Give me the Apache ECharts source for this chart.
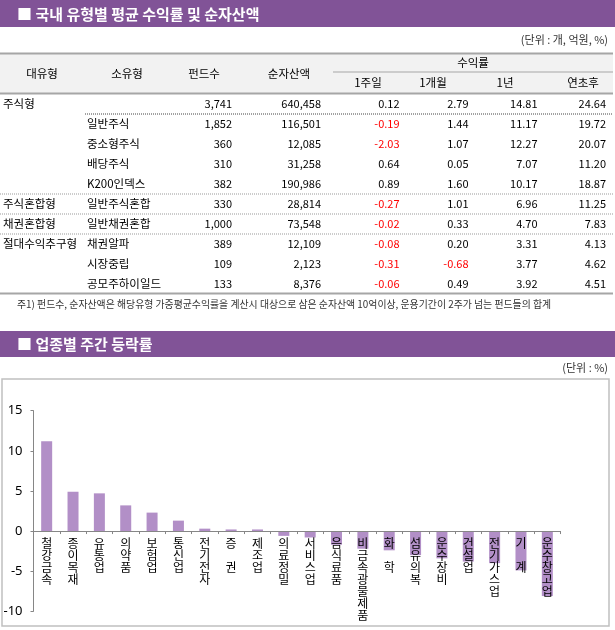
<!DOCTYPE html>
<html><head><meta charset="utf-8">
<script src="https://cdn.jsdelivr.net/npm/echarts@6/dist/echarts.min.js"></script>
<style>html,body{margin:0;padding:0;background:#fff}#c{width:615px;height:630px}</style>
</head><body><div id="c"></div>
<script>
// ---- Data ----
const tableTitle = '■ 국내 유형별 평균 수익률 및 순자산액';
const tableUnit = '(단위 : 개, 억원, %)';
const headerMain = ['대유형', '소유형', '펀드수', '순자산액'];
const headerGroup = '수익률';
const headerSub = ['1주일', '1개월', '1년', '연초후'];
const majorTypes = ['주식형', '', '', '', '', '주식혼합형', '채권혼합형', '절대수익추구형', '', ''];
const subTypes = ['', '일반주식', '중소형주식', '배당주식', 'K200인덱스', '일반주식혼합', '일반채권혼합', '채권알파', '시장중립', '공모주하이일드'];
const fundCounts = [3741, 1852, 360, 310, 382, 330, 1000, 389, 109, 133];
const netAssets = [640458, 116501, 12085, 31258, 190986, 28814, 73548, 12109, 2123, 8376];
const ret1w = [0.12, -0.19, -2.03, 0.64, 0.89, -0.27, -0.02, -0.08, -0.31, -0.06];
const ret1m = [2.79, 1.44, 1.07, 0.05, 1.60, 1.01, 0.33, 0.20, -0.68, 0.49];
const ret1y = [14.81, 11.17, 12.27, 7.07, 10.17, 6.96, 4.70, 3.31, 3.77, 3.92];
const retYtd = [24.64, 19.72, 20.07, 11.20, 18.87, 11.25, 7.83, 4.13, 4.62, 4.51];
const noteText = '주1) 펀드수, 순자산액은 해당유형 가중평균수익률을 계산시 대상으로 삼은 순자산액 10억이상, 운용기간이 2주가 넘는 펀드들의 합계';

const chartTitle = '■ 업종별 주간 등락률';
const chartUnit = '(단위 : %)';
const sectors = ['철강금속', '종이목재', '유통업', '의약품', '보험업', '통신업', '전기전자', '증권', '제조업', '의료정밀',
  '서비스업', '음식료품', '비금속광물제품', '화학', '섬유의복', '운수장비', '건설업', '전기가스업', '기계', '운수창고업'];
const weeklyChange = [11.2, 4.9, 4.7, 3.2, 2.3, 1.3, 0.3, 0.2, 0.2, -0.6,
  -0.8, -1.7, -2.2, -2.4, -3.0, -3.4, -3.8, -4.0, -4.9, -8.1];
const yMin = -10, yMax = 15, yStep = 5;

// ---- Layout / style ----
const FONT = '"Noto Sans CJK KR", "Noto Sans", sans-serif';
const PURPLE = '#815397';
const g = [];
function txt(x, y, text, opt) {
  opt = opt || {};
  g.push({ type: 'text', x: x, y: y, z: 10, style: {
    text: text, fill: opt.fill || '#000', align: opt.align || 'left', verticalAlign: 'middle',
    font: (opt.weight || 'normal') + ' ' + (opt.size || 11) + 'px ' + FONT } });
}
function line(x1, y1, x2, y2, stroke, w, dash) {
  g.push({ type: 'line', z: 5, shape: { x1, y1, x2, y2 }, style: { stroke, lineWidth: w, lineDash: dash || null } });
}
function rect(x, y, w, h, fill) {
  g.push({ type: 'rect', z: 1, shape: { x, y, width: w, height: h }, style: { fill: fill || 'none' } });
}

// Title bar 1
rect(0, 0, 615, 27, PURPLE);
txt(17, 14, tableTitle, { fill: '#fff', size: 15, weight: 'bold' });
txt(608, 40, tableUnit, { fill: '#333', size: 11, align: 'right' });

// Header
rect(0, 54, 613, 39.5, '#f2f2f2');
line(0, 53.5, 613, 53.5, '#a6a6a6', 2);
line(0, 93.5, 613, 93.5, '#a6a6a6', 2);
line(333, 72, 613, 72, '#a6a6a6', 1.2);
const hx = [42, 127, 204, 289];
headerMain.forEach((h, i) => txt(hx[i], 73.5, h, { align: 'center', size: 11.5 }));
txt(473, 62.5, headerGroup, { align: 'center', size: 11.5 });
const sx = [368, 433, 505, 583];
headerSub.forEach((h, i) => txt(sx[i], 82.5, h, { align: 'center', size: 11.5 }));

// Rows
const fmtInt = v => v.toLocaleString('en-US');
const fmtPct = v => v.toFixed(2);
const numCols = [
  { x: 232, vals: fundCounts, f: fmtInt, red: false },
  { x: 321, vals: netAssets, f: fmtInt, red: false },
  { x: 399.5, vals: ret1w, f: fmtPct, red: true },
  { x: 468.5, vals: ret1m, f: fmtPct, red: true },
  { x: 537.5, vals: ret1y, f: fmtPct, red: true },
  { x: 606, vals: retYtd, f: fmtPct, red: true }
];
majorTypes.forEach((m, i) => {
  const y = 104 + 20 * i;
  if (m) txt(3, y, m, { size: 11.5 });
  if (subTypes[i]) txt(87, y, subTypes[i], { size: 11.5 });
  numCols.forEach(c => {
    const v = c.vals[i];
    txt(c.x, y, c.f(v), { align: 'right', fill: (c.red && v < 0) ? '#ff0000' : '#000' });
  });
});
line(85, 114, 613, 114, '#444', 1, [1, 1]);
line(0, 194, 613, 194, '#999', 1, [1, 1]);
line(0, 214, 613, 214, '#999', 1, [1, 1]);
line(0, 234, 613, 234, '#999', 1, [1, 1]);
line(0, 293.5, 613, 293.5, '#a6a6a6', 2);
txt(17, 304.5, noteText, { fill: '#333', size: 9.9 });

// Title bar 2
rect(0, 331, 615, 26, PURPLE);
txt(17, 344, chartTitle, { fill: '#fff', size: 15, weight: 'bold' });
txt(608, 368, chartUnit, { fill: '#333', size: 11, align: 'right' });
// chart frame
g.push({ type: 'rect', z: 0, shape: { x: 2, y: 379, width: 607, height: 247 }, style: { fill: 'none', stroke: '#c0c0c0', lineWidth: 1.5 } });

function vertLabel(name) {
  const ch = name.split('');
  if (ch.length === 2) return ch[0] + '\n\n' + ch[1];
  return ch.join('\n');
}

const GRID_TOP = 410.7, GRID_BOTTOM = 18.7, H = 630;
const gridH = H - GRID_TOP - GRID_BOTTOM;
const zeroOffset = -gridH * (0 - yMin) / (yMax - yMin); // lift the category axis (line, ticks, labels) to the zero line

const chart = echarts.init(document.getElementById('c'), null, { renderer: 'canvas' });
chart.setOption({
  backgroundColor: '#fff',
  animation: false,
  graphic: g,
  grid: { left: 33.5, right: 54.5, top: GRID_TOP, bottom: GRID_BOTTOM, containLabel: false, outerBoundsMode: 'none' },
  xAxis: {
    type: 'category', data: sectors, position: 'bottom', offset: zeroOffset, z: 20,
    axisLine: { onZero: false, lineStyle: { color: '#868686', width: 1 } },
    axisTick: { show: true, interval: 0, length: 3, lineStyle: { color: '#868686' } },
    axisLabel: { interval: 0, formatter: vertLabel, fontSize: 12, lineHeight: 12, color: '#000', margin: 6, fontFamily: FONT, verticalAlign: 'top', hideOverlap: false }
  },
  yAxis: {
    type: 'value', min: yMin, max: yMax, interval: yStep,
    splitLine: { show: false },
    axisLine: { show: true, lineStyle: { color: '#868686', width: 1 } },
    axisTick: { show: true, length: 3, lineStyle: { color: '#868686' } },
    axisLabel: { fontSize: 13, color: '#000', margin: 11, fontFamily: '"Noto Sans", sans-serif' }
  },
  series: [{
    type: 'bar', data: weeklyChange, barWidth: 11, z: 1,
    itemStyle: { color: '#b28fc7' }
  }]
});
</script></body></html>
